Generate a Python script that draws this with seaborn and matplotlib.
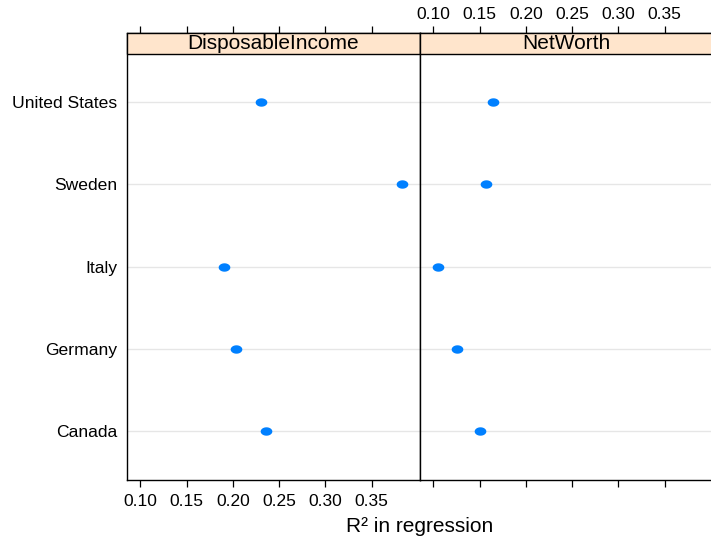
import numpy as np
import pandas as pd
import matplotlib
matplotlib.use("Agg")
import matplotlib.pyplot as plt
import seaborn as sns
from matplotlib.path import Path
from matplotlib.patches import Rectangle
from matplotlib.markers import MarkerStyle

# ---- data ----
countries = ["United States", "Sweden", "Italy", "Germany", "Canada"]
panels = ["DisposableIncome", "NetWorth"]
disposable_income = [0.230, 0.383, 0.190, 0.203, 0.236]
net_worth = [0.164, 0.157, 0.105, 0.126, 0.150]
xticks = [0.10, 0.15, 0.20, 0.25, 0.30, 0.35]
xtick_labels = ["0.10", "0.15", "0.20", "0.25", "0.30", "0.35"]
xlabel = "R\u00b2 in regression"

df = pd.DataFrame({
    "country": countries * 2,
    "measure": [panels[0]] * len(countries) + [panels[1]] * len(countries),
    "r2": disposable_income + net_worth,
})

sns.set_theme(style="white")
plt.rcParams["font.family"] = ["Liberation Sans", "DejaVu Sans"]
plt.rcParams["text.color"] = "black"
plt.rcParams["xtick.color"] = "black"
plt.rcParams["ytick.color"] = "black"
plt.rcParams["xtick.labelcolor"] = "black"
plt.rcParams["ytick.labelcolor"] = "black"

W, H = 711, 537
fig = plt.figure(figsize=(W / 100, H / 100), dpi=100)


def ax_rect(x0, x1, y0, y1):
    return [x0 / W, 1 - y1 / H, (x1 - x0) / W, (y1 - y0) / H]


top_px, strip_bot_px, bot_px = 33, 53.5, 480
ax1 = fig.add_axes(ax_rect(127, 420, top_px, bot_px))
ax2 = fig.add_axes(ax_rect(420, 713, top_px, bot_px))
axes = [ax1, ax2]

theta = np.linspace(0, 2 * np.pi, 60)
ellipse = Path(np.column_stack([np.cos(theta), 0.72 * np.sin(theta)]), closed=True)

# y mapping: category 0 at 102 px, 4 at 431 px
y0_px, y4_px = 102.0, 431.0
ppu = (y4_px - y0_px) / 4
ylim_top = -(y0_px - top_px) / ppu
ylim_bot = 4 + (bot_px - y4_px) / ppu
strip_frac = (strip_bot_px - top_px) / (bot_px - top_px)

for i, (ax, name) in enumerate(zip(axes, panels)):
    sub = df[df["measure"] == name]
    for k in range(len(countries)):
        ax.axhline(k, color="#e6e6e6", lw=1.0, zorder=0)
    sns.stripplot(data=sub, x="r2", y="country", order=countries, ax=ax,
                  jitter=False, color="#0080ff", marker=MarkerStyle(ellipse),
                  s=8.4, linewidth=0, zorder=3)
    ax.set_xlim(0.0855, 0.4022)
    ax.set_ylim(ylim_bot, ylim_top)
    ax.set_xlabel("")
    ax.set_ylabel("")
    ax.set_xticks(xticks)
    ax.set_xticklabels(xtick_labels)
    ax.tick_params(axis="x", direction="out", length=5.2, width=0.9, color="black",
                   top=True, bottom=True, labelsize=12.5,
                   pad=(4.6 if i == 0 else 2.4),
                   labeltop=(i == 1), labelbottom=(i == 0))
    ax.tick_params(axis="y", length=0, labelsize=12.6, pad=7,
                   labelleft=(i == 0))
    for sp in ax.spines.values():
        sp.set_visible(True)
        sp.set_color("black")
        sp.set_linewidth(1.0)
    ax.add_patch(Rectangle((0, 1 - strip_frac), 1, strip_frac, transform=ax.transAxes,
                           facecolor="#ffe5cc", edgecolor="black", lw=1.0,
                           clip_on=False, zorder=5))
    ax.text(0.5, 1 - strip_frac / 2, name, transform=ax.transAxes, ha="center",
            va="center", fontsize=15, color="black", zorder=6)
    ax.grid(False)
    ax.set_facecolor("white")

fig.text(420 / W, 1 - 526 / H, xlabel, ha="center", va="center", fontsize=15, color="black")

fig.savefig("out.png", dpi=100, facecolor="white")
